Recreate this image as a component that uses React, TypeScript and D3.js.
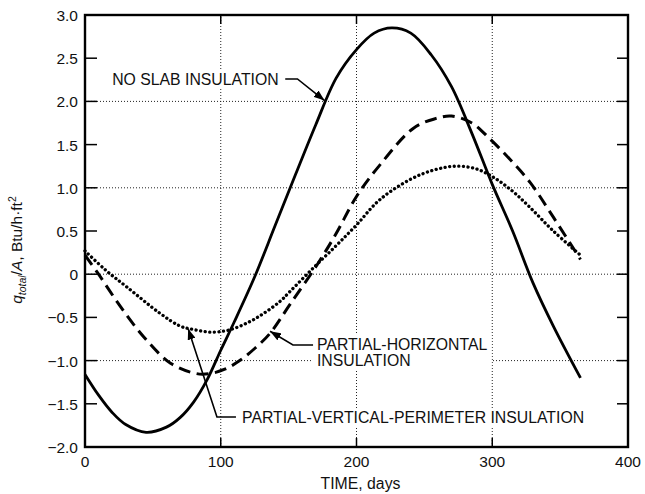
import React, { useRef, useEffect } from "react";
import * as d3 from "d3";

// no slab insulation (solid)
const noSlabDays = [0, 10, 20, 30, 45, 60, 70, 80, 90, 100, 110, 125, 140, 155, 170, 185, 200, 213, 226, 240, 255, 270, 285, 300, 315, 330, 345, 365];
const noSlab = [-1.16, -1.4, -1.6, -1.74, -1.83, -1.77, -1.66, -1.48, -1.22, -0.88, -0.55, -0.03, 0.56, 1.15, 1.73, 2.27, 2.6, 2.79, 2.85, 2.79, 2.54, 2.17, 1.63, 1.04, 0.5, -0.1, -0.6, -1.2];

// partial-horizontal insulation (dashed)
const partHorizDays = [0, 10, 25, 43, 63, 82, 92, 103, 114, 125, 136, 151, 171, 185, 200, 217, 242, 258, 270, 285, 298, 313, 328, 345, 365];
const partHoriz = [0.22, 0.0, -0.35, -0.72, -1.03, -1.15, -1.15, -1.1, -1.0, -0.86, -0.69, -0.35, 0.11, 0.47, 0.9, 1.26, 1.69, 1.8, 1.83, 1.75, 1.57, 1.33, 1.06, 0.66, 0.17];

// partial-vertical-perimeter insulation (dotted)
const partVertDays = [0, 15, 31, 55, 70, 80, 92, 105, 120, 132, 144, 151, 168, 185, 200, 217, 240, 258, 273, 288, 301, 315, 328, 345, 365];
const partVert = [0.27, 0.05, -0.15, -0.45, -0.6, -0.64, -0.67, -0.65, -0.56, -0.45, -0.31, -0.2, 0.07, 0.33, 0.57, 0.86, 1.1, 1.21, 1.25, 1.22, 1.12, 0.96, 0.77, 0.5, 0.22];

const yTicks = [3, 2.5, 2, 1.5, 1, 0.5, 0, -0.5, -1, -1.5, -2];
const yTickLabels = ["3.0", "2.5", "2.0", "1.5", "1.0", "0.5", "0", "\u22120.5", "\u22121.0", "\u22121.5", "\u22122.0"];
const xTicks = [0, 100, 200, 300, 400];
const xGrid = [100, 200, 300];
const yGrid = [2, 1, 0, -1];

const W = 645,
  H = 494;
const FONT = "'Liberation Sans', Arial, Helvetica, sans-serif";

const App: React.FC = () => {
  const ref = useRef<SVGSVGElement>(null);

  useEffect(() => {
    const svg = d3.select(ref.current);
    svg.selectAll("*").remove();

    const margin = { top: 15, right: 17, bottom: 47, left: 85 };
    const x = d3.scaleLinear().domain([0, 400]).range([margin.left, W - margin.right]);
    const y = d3.scaleLinear().domain([-2, 3]).range([H - margin.bottom, margin.top]);

    const defs = svg.append("defs");
    defs
      .append("marker")
      .attr("id", "arrow")
      .attr("markerUnits", "userSpaceOnUse")
      .attr("markerWidth", 11)
      .attr("markerHeight", 8)
      .attr("refX", 11)
      .attr("refY", 4)
      .attr("orient", "auto")
      .append("path")
      .attr("d", "M0,0 L11,4 L0,8 Z")
      .attr("fill", "#000");

    // Grid
    const grid = svg.append("g").attr("stroke", "#222").attr("stroke-width", 1).attr("stroke-dasharray", "1,2");
    grid
      .selectAll("line.gy")
      .data(yGrid)
      .enter()
      .append("line")
      .attr("x1", x(0))
      .attr("x2", x(400))
      .attr("y1", (d) => y(d))
      .attr("y2", (d) => y(d));
    grid
      .selectAll("line.gx")
      .data(xGrid)
      .enter()
      .append("line")
      .attr("x1", (d) => x(d))
      .attr("x2", (d) => x(d))
      .attr("y1", y(-2))
      .attr("y2", y(3));

    // Labels with white backgrounds (they break the grid)
    const addLabel = (lines: string[], day: number, val: number, lineH: number) => {
      const t = svg
        .append("text")
        .attr("x", x(day))
        .attr("y", y(val))
        .style("font-family", FONT)
        .style("font-size", "15.8px")
        .attr("fill", "#111");
      lines.forEach((s, i) => {
        t.append("tspan").attr("x", x(day)).attr("dy", i === 0 ? 0 : lineH).text(s);
      });
      const bb = (t.node() as SVGTextElement).getBBox();
      svg
        .insert("rect", () => t.node())
        .attr("x", bb.x - 4)
        .attr("y", bb.y - 1)
        .attr("width", bb.width + 8)
        .attr("height", bb.height + 2)
        .attr("fill", "#fff");
    };

    addLabel(["NO SLAB INSULATION"], 20.0, 2.19, 0);
    addLabel(["PARTIAL-HORIZONTAL", "INSULATION"], 170.9, -0.877, 16.5);
    addLabel(["PARTIAL-VERTICAL-PERIMETER INSULATION"], 115.7, -1.722, 0);

    // Leaders
    const leader = d3
      .line<[number, number]>()
      .x((d) => x(d[0]))
      .y((d) => y(d[1]));
    const leaders: [number, number][][] = [
      [
        [147.5, 2.26],
        [156.5, 2.26],
        [176.5, 2.01],
      ],
      [
        [168, -0.82],
        [153.2, -0.82],
        [136.3, -0.66],
      ],
      [
        [111.2, -1.653],
        [97.2, -1.653],
        [76, -0.63],
      ],
    ];
    leaders.forEach((pts) => {
      svg
        .append("path")
        .attr("d", leader(pts))
        .attr("fill", "none")
        .attr("stroke", "#000")
        .attr("stroke-width", 1.6)
        .attr("marker-end", "url(#arrow)");
    });

    // Curves
    const curve = d3
      .line<[number, number]>()
      .x((d) => x(d[0]))
      .y((d) => y(d[1]))
      .curve(d3.curveCatmullRom);
    const series = [
      { days: partVertDays, vals: partVert, dash: "0.1,4.5", width: 3.3 },
      { days: partHorizDays, vals: partHoriz, dash: "12,6.5", width: 3 },
      { days: noSlabDays, vals: noSlab, dash: null, width: 2.8 },
    ];
    series.forEach((s) => {
      const pts = s.days.map((d, i) => [d, s.vals[i]] as [number, number]);
      const p = svg
        .append("path")
        .attr("d", curve(pts))
        .attr("fill", "none")
        .attr("stroke", "#000")
        .attr("stroke-width", s.width)
        .attr("stroke-linecap", s.dash && s.dash.startsWith("0.1") ? "round" : "butt")
        .attr("stroke-linejoin", "round");
      if (s.dash) p.attr("stroke-dasharray", s.dash);
    });

    // Ticks
    const ticks = svg.append("g").attr("stroke", "#000").attr("stroke-width", 1.5);
    yTicks.forEach((v) => {
      ticks.append("line").attr("x1", x(0)).attr("x2", x(0) + 12).attr("y1", y(v)).attr("y2", y(v));
      ticks.append("line").attr("x1", x(400)).attr("x2", x(400) - 11).attr("y1", y(v)).attr("y2", y(v));
    });
    xGrid.forEach((d) => {
      ticks.append("line").attr("x1", x(d)).attr("x2", x(d)).attr("y1", y(-2)).attr("y2", y(-2) - 9);
      ticks.append("line").attr("x1", x(d)).attr("x2", x(d)).attr("y1", y(3)).attr("y2", y(3) + 9);
    });

    // Frame
    svg
      .append("rect")
      .attr("x", x(0))
      .attr("y", y(3))
      .attr("width", x(400) - x(0))
      .attr("height", y(-2) - y(3))
      .attr("fill", "none")
      .attr("stroke", "#000")
      .attr("stroke-width", 2.4);

    // Tick labels
    svg
      .selectAll("text.yt")
      .data(yTicks)
      .enter()
      .append("text")
      .attr("x", x(0) - 7)
      .attr("y", (d) => y(d) + 6)
      .attr("text-anchor", "end")
      .style("font-family", FONT)
      .style("font-size", "15.5px")
      .attr("fill", "#111")
      .text((d, i) => yTickLabels[i]);

    svg
      .selectAll("text.xt")
      .data(xTicks)
      .enter()
      .append("text")
      .attr("x", (d) => x(d))
      .attr("y", y(-2) + 20)
      .attr("text-anchor", "middle")
      .style("font-family", FONT)
      .style("font-size", "15.5px")
      .attr("fill", "#111")
      .text((d) => String(d));

    // Axis titles
    svg
      .append("text")
      .attr("x", (x(0) + x(400)) / 2 + 4)
      .attr("y", H - 5)
      .attr("text-anchor", "middle")
      .style("font-family", FONT)
      .style("font-size", "15.8px")
      .attr("fill", "#111")
      .text("TIME, days");

    const yl = svg
      .append("text")
      .attr("transform", `translate(22,${y(0.28)}) rotate(-90)`)
      .attr("text-anchor", "middle")
      .style("font-family", FONT)
      .style("font-size", "15.5px")
      .attr("fill", "#111");
    yl.append("tspan").style("font-style", "italic").text("q");
    yl.append("tspan").style("font-style", "italic").style("font-size", "10.5px").attr("dy", 4).text("total");
    yl.append("tspan").attr("dy", -4).text("/");
    yl.append("tspan").style("font-style", "italic").text("A");
    yl.append("tspan").text(", Btu/h\u00b7ft");
    yl.append("tspan").style("font-size", "10.5px").attr("dy", -6).text("2");
  }, []);

  return (
    <svg
      ref={ref}
      width={W}
      height={H}
      style={{ position: "absolute", left: 0, top: 0, background: "#fff" }}
    />
  );
};

export default App;
